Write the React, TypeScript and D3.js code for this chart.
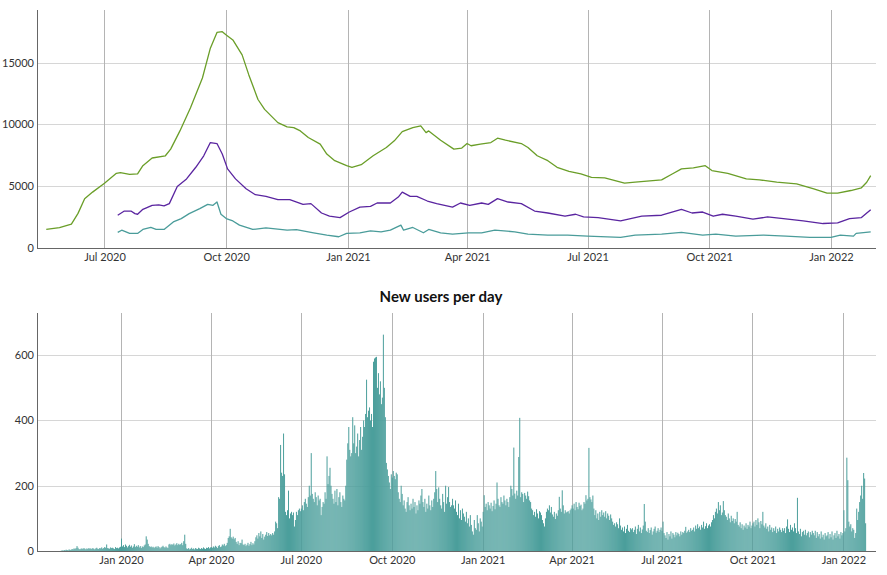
import { useEffect, useRef } from 'react';
import * as d3 from 'd3';

// rolling totals (top chart)
const totalUsers: [string, number][] = [
  ['2020-05-18', 1500], ['2020-05-28', 1650], ['2020-06-06', 1925], ['2020-06-11', 2800], ['2020-06-16', 3990],
  ['2020-06-22', 4520], ['2020-07-01', 5240], ['2020-07-10', 6040], ['2020-07-13', 6100], ['2020-07-20', 5950],
  ['2020-07-26', 5990], ['2020-07-30', 6660], ['2020-08-06', 7280], ['2020-08-16', 7460], ['2020-08-20', 8000],
  ['2020-08-27', 9470], ['2020-09-04', 11340], ['2020-09-13', 13750], ['2020-09-19', 16160], ['2020-09-24', 17440],
  ['2020-09-28', 17500], ['2020-10-01', 17230], ['2020-10-06', 16830], ['2020-10-13', 15620], ['2020-10-18', 14020],
  ['2020-10-25', 12010], ['2020-10-30', 11210], ['2020-11-09', 10140], ['2020-11-16', 9790], ['2020-11-21', 9740],
  ['2020-11-26', 9470], ['2020-12-02', 8940], ['2020-12-11', 8400], ['2020-12-16', 7600], ['2020-12-22', 7060],
  ['2020-12-31', 6660], ['2021-01-04', 6530], ['2021-01-11', 6740], ['2021-01-20', 7460], ['2021-01-30', 8130],
  ['2021-02-05', 8670], ['2021-02-11', 9410], ['2021-02-19', 9740], ['2021-02-25', 9870], ['2021-03-01', 9330],
  ['2021-03-03', 9470], ['2021-03-12', 8720], ['2021-03-22', 8000], ['2021-03-28', 8080], ['2021-04-01', 8450],
  ['2021-04-04', 8270], ['2021-04-11', 8400], ['2021-04-19', 8530], ['2021-04-24', 8880], ['2021-04-30', 8720],
  ['2021-05-12', 8450], ['2021-05-17', 8130], ['2021-05-24', 7460], ['2021-06-01', 7060], ['2021-06-08', 6530],
  ['2021-06-17', 6200], ['2021-06-26', 5990], ['2021-07-04', 5720], ['2021-07-14', 5670], ['2021-07-29', 5240],
  ['2021-08-06', 5320], ['2021-08-26', 5510], ['2021-09-03', 5990], ['2021-09-10', 6400], ['2021-09-19', 6480],
  ['2021-09-28', 6660], ['2021-10-03', 6260], ['2021-10-15', 6040], ['2021-10-29', 5590], ['2021-11-08', 5510],
  ['2021-11-21', 5320], ['2021-12-06', 5190], ['2021-12-19', 4790], ['2021-12-29', 4440], ['2022-01-06', 4440],
  ['2022-01-16', 4650], ['2022-01-24', 4870], ['2022-01-28', 5320], ['2022-01-31', 5860],
];

const activeUsers: [string, number][] = [
  ['2020-07-11', 2650], ['2020-07-16', 2990], ['2020-07-21', 2990], ['2020-07-24', 2780], ['2020-07-26', 2730],
  ['2020-07-30', 3130], ['2020-08-06', 3450], ['2020-08-11', 3480], ['2020-08-15', 3400], ['2020-08-19', 3590],
  ['2020-08-25', 4980], ['2020-09-01', 5590], ['2020-09-08', 6530], ['2020-09-14', 7460], ['2020-09-19', 8530],
  ['2020-09-24', 8450], ['2020-09-28', 7600], ['2020-10-02', 6400], ['2020-10-08', 5590], ['2020-10-16', 4790],
  ['2020-10-23', 4310], ['2020-10-31', 4170], ['2020-11-09', 3910], ['2020-11-18', 3910], ['2020-11-28', 3530],
  ['2020-12-04', 3590], ['2020-12-12', 2830], ['2020-12-18', 2570], ['2020-12-26', 2460], ['2021-01-02', 2910],
  ['2021-01-10', 3310], ['2021-01-18', 3370], ['2021-01-23', 3640], ['2021-02-02', 3640], ['2021-02-08', 4120],
  ['2021-02-11', 4520], ['2021-02-17', 4170], ['2021-02-22', 4170], ['2021-03-02', 3800], ['2021-03-09', 3590],
  ['2021-03-21', 3310], ['2021-03-27', 3640], ['2021-04-03', 3450], ['2021-04-12', 3640], ['2021-04-17', 3530],
  ['2021-04-24', 3990], ['2021-05-02', 3720], ['2021-05-12', 3590], ['2021-05-22', 2990], ['2021-06-01', 2830],
  ['2021-06-14', 2570], ['2021-06-22', 2730], ['2021-06-28', 2510], ['2021-07-09', 2460], ['2021-07-26', 2190],
  ['2021-08-11', 2570], ['2021-08-26', 2650], ['2021-09-10', 3130], ['2021-09-18', 2830], ['2021-09-26', 2910],
  ['2021-10-04', 2570], ['2021-10-11', 2730], ['2021-10-21', 2570], ['2021-11-03', 2330], ['2021-11-14', 2510],
  ['2021-11-26', 2380], ['2021-12-11', 2190], ['2021-12-26', 1980], ['2022-01-06', 2030], ['2022-01-15', 2380],
  ['2022-01-24', 2460], ['2022-01-31', 3100],
];

const returningUsers: [string, number][] = [
  ['2020-07-11', 1260], ['2020-07-14', 1440], ['2020-07-20', 1180], ['2020-07-26', 1180], ['2020-07-30', 1500],
  ['2020-08-05', 1660], ['2020-08-09', 1500], ['2020-08-15', 1500], ['2020-08-22', 2110], ['2020-08-28', 2380],
  ['2020-09-03', 2780], ['2020-09-11', 3180], ['2020-09-17', 3530], ['2020-09-21', 3450], ['2020-09-24', 3720],
  ['2020-09-27', 2730], ['2020-10-01', 2380], ['2020-10-06', 2190], ['2020-10-11', 1850], ['2020-10-21', 1500],
  ['2020-10-31', 1630], ['2020-11-16', 1440], ['2020-11-23', 1480], ['2020-12-06', 1230], ['2020-12-16', 1040],
  ['2020-12-25', 910], ['2020-12-31', 1180], ['2021-01-10', 1230], ['2021-01-18', 1390], ['2021-01-26', 1310],
  ['2021-02-02', 1440], ['2021-02-10', 1850], ['2021-02-12', 1440], ['2021-02-19', 1660], ['2021-02-27', 1230],
  ['2021-03-03', 1500], ['2021-03-12', 1230], ['2021-03-21', 1120], ['2021-04-02', 1230], ['2021-04-12', 1230],
  ['2021-04-22', 1440], ['2021-05-07', 1310], ['2021-05-17', 1120], ['2021-06-01', 1040], ['2021-06-16', 1040],
  ['2021-07-01', 960], ['2021-07-26', 860], ['2021-08-06', 1040], ['2021-08-26', 1120], ['2021-09-10', 1260],
  ['2021-09-26', 1040], ['2021-10-06', 1120], ['2021-10-21', 960], ['2021-11-11', 1040], ['2021-11-28', 960],
  ['2021-12-16', 860], ['2022-01-01', 860], ['2022-01-08', 1040], ['2022-01-18', 960], ['2022-01-20', 1180],
  ['2022-01-31', 1310],
];

// new users per day, one array per month (first value = 1st of the month)
const nov2019 = [1, 2, 1, 3, 2, 4, 3, 2, 5, 3, 4, 6, 5, 8, 6, 9, 15, 10, 6, 5, 7, 8, 6, 9, 7, 5, 8, 6, 9, 7];
const dec2019 = [8, 6, 9, 7, 5, 8, 10, 7, 6, 9, 8, 11, 7, 9, 12, 10, 20, 9, 8, 7, 11, 9, 10, 8, 6, 12, 9, 10, 8, 11, 13];
const jan2020 = [38, 14, 18, 12, 20, 16, 11, 15, 19, 13, 17, 10, 14, 21, 12, 16, 13, 18, 11, 15, 9, 14, 12, 17, 20, 45, 35, 22, 15, 12, 14];
const feb2020 = [11, 13, 9, 12, 14, 10, 15, 12, 8, 11, 13, 16, 12, 10, 14, 11, 9, 20, 22, 18, 21, 19, 23, 17, 20, 24, 18, 22, 19];
const mar2020 = [21, 25, 18, 30, 50, 22, 8, 6, 9, 5, 7, 10, 6, 8, 5, 9, 7, 6, 10, 8, 6, 9, 7, 11, 8, 6, 10, 9, 12, 8, 11];
const apr2020 = [12, 10, 14, 11, 16, 13, 9, 15, 18, 12, 14, 20, 17, 22, 15, 18, 25, 40, 45, 68, 42, 38, 44, 36, 40, 28, 22, 30, 18, 25];
const may2020 = [24, 35, 20, 18, 22, 15, 19, 25, 16, 21, 28, 18, 24, 20, 30, 42, 48, 38, 55, 45, 60, 40, 52, 35, 44, 50, 58, 46, 55, 48, 52];
const jun2020 = [48, 55, 50, 60, 90, 85, 70, 165, 160, 325, 240, 230, 360, 235, 120, 110, 125, 185, 100, 115, 120, 110, 118, 75, 95, 120, 110, 125, 130, 122];
const jul2020 = [130, 140, 125, 150, 160, 145, 135, 165, 200, 170, 300, 175, 160, 150, 180, 165, 140, 170, 155, 160, 110, 135, 150, 145, 180, 160, 290, 205, 230, 255, 200];
const aug2020 = [175, 160, 145, 185, 150, 190, 140, 165, 180, 150, 135, 170, 160, 155, 200, 280, 330, 380, 310, 290, 300, 410, 330, 385, 300, 320, 360, 290, 340, 380, 310];
const sep2020 = [350, 400, 380, 420, 525, 410, 430, 440, 400, 420, 380, 580, 590, 593, 595, 500, 545, 480, 520, 450, 470, 663, 500, 410, 270, 250, 230, 210, 190, 235];
const oct2020 = [225, 245, 230, 220, 240, 235, 180, 160, 150, 200, 175, 140, 155, 130, 120, 150, 165, 140, 125, 145, 130, 160, 135, 150, 115, 140, 125, 155, 145, 170, 190];
const nov2020 = [150, 135, 160, 120, 145, 130, 170, 140, 125, 155, 135, 160, 180, 245, 190, 150, 195, 160, 140, 130, 175, 150, 120, 200, 145, 165, 196, 150, 135, 140];
const dec2020 = [160, 140, 130, 155, 120, 110, 145, 100, 125, 95, 130, 115, 105, 90, 120, 85, 100, 75, 110, 80, 60, 50, 95, 70, 65, 110, 85, 60, 100, 90, 75];
const jan2021 = [120, 171, 135, 145, 125, 150, 140, 130, 148, 122, 138, 155, 128, 145, 210, 160, 140, 135, 165, 150, 145, 170, 155, 140, 160, 150, 135, 165, 200, 190, 170];
const feb2021 = [317, 176, 160, 185, 170, 288, 408, 165, 180, 175, 150, 178, 170, 160, 182, 168, 155, 150, 130, 125, 110, 120, 105, 128, 115, 100, 122, 118];
const mar2021 = [110, 95, 85, 75, 100, 120, 130, 125, 140, 118, 135, 112, 105, 120, 98, 115, 108, 125, 166, 130, 120, 186, 140, 115, 125, 118, 120, 122, 115, 125, 130];
const apr2021 = [140, 130, 145, 125, 150, 135, 128, 148, 138, 142, 125, 130, 150, 145, 171, 155, 160, 316, 165, 158, 150, 170, 130, 110, 125, 100, 115, 95, 120, 105];
const may2021 = [125, 110, 118, 105, 122, 100, 115, 108, 95, 112, 100, 90, 80, 85, 75, 88, 82, 70, 100, 78, 65, 72, 60, 75, 55, 68, 80, 62, 58, 70, 66];
const jun2021 = [70, 58, 65, 75, 52, 68, 80, 60, 72, 55, 66, 78, 144, 90, 62, 58, 70, 55, 64, 72, 50, 60, 68, 75, 56, 62, 70, 58, 65, 72];
const jul2021 = [62, 90, 55, 48, 40, 58, 35, 52, 45, 60, 38, 55, 50, 42, 58, 48, 56, 52, 45, 60, 50, 58, 55, 62, 74, 56, 60, 65, 58, 70, 62];
const aug2021 = [65, 72, 60, 78, 68, 82, 70, 75, 65, 80, 72, 90, 68, 76, 85, 70, 78, 82, 75, 88, 95, 110, 100, 120, 130, 115, 150, 125, 140, 110, 118];
const sep2021 = [153, 125, 110, 105, 95, 115, 100, 88, 108, 92, 100, 85, 98, 90, 120, 80, 75, 88, 70, 82, 65, 78, 72, 85, 68, 80, 75, 90, 70, 78];
const oct2021 = [85, 90, 75, 95, 80, 100, 88, 70, 92, 82, 120, 78, 72, 85, 68, 75, 60, 80, 65, 72, 58, 70, 62, 75, 55, 68, 60, 72, 65, 58, 70];
const nov2021 = [62, 70, 55, 75, 97, 68, 58, 80, 65, 72, 60, 85, 70, 55, 163, 60, 52, 68, 45, 58, 62, 50, 65, 48, 55, 60, 42, 58, 50, 62];
const dec2021 = [55, 48, 62, 40, 58, 45, 52, 38, 60, 42, 50, 35, 55, 45, 48, 58, 38, 52, 42, 60, 35, 48, 55, 40, 62, 45, 52, 38, 58, 48, 55];
const jan2022 = [125, 60, 70, 286, 217, 90, 75, 82, 60, 70, 65, 40, 55, 130, 95, 120, 150, 170, 200, 160, 239, 222, 85];

const newUsersByMonth: [string, number[]][] = [
  ['2019-11', nov2019], ['2019-12', dec2019], ['2020-01', jan2020], ['2020-02', feb2020], ['2020-03', mar2020],
  ['2020-04', apr2020], ['2020-05', may2020], ['2020-06', jun2020], ['2020-07', jul2020], ['2020-08', aug2020],
  ['2020-09', sep2020], ['2020-10', oct2020], ['2020-11', nov2020], ['2020-12', dec2020], ['2021-01', jan2021],
  ['2021-02', feb2021], ['2021-03', mar2021], ['2021-04', apr2021], ['2021-05', may2021], ['2021-06', jun2021],
  ['2021-07', jul2021], ['2021-08', aug2021], ['2021-09', sep2021], ['2021-10', oct2021], ['2021-11', nov2021],
  ['2021-12', dec2021], ['2022-01', jan2022],
];

const lineSeries = [
  { name: 'total', color: '#6a9e28', data: totalUsers },
  { name: 'active', color: '#5a25a0', data: activeUsers },
  { name: 'returning', color: '#4a9c9a', data: returningUsers },
];

const topDomain = ['2020-05-11', '2022-02-04'];
const bottomDomain = ['2019-10-08', '2022-02-03'];
const chartTitle = 'New users per day';

const FONT = 'Lato, "Open Sans", sans-serif';

export default function App() {
  const svgRef = useRef<SVGSVGElement>(null);

  useEffect(() => {
    if (!svgRef.current) return;
    const svg = d3.select(svgRef.current);
    svg.selectAll('*').remove();

    const parse = d3.timeParse('%Y-%m-%d');
    const left = 37;
    const right = 876;

    const drawFrame = (
      g: d3.Selection<SVGGElement, unknown, null, undefined>,
      x: d3.ScaleTime<number, number>,
      y: d3.ScaleLinear<number, number>,
      top: number,
      bottom: number
    ) => {
      // horizontal grid
      g.selectAll('.hgrid')
        .data(y.ticks(4).filter(d => d > 0))
        .enter()
        .append('line')
        .attr('x1', left)
        .attr('x2', right)
        .attr('y1', d => Math.round(y(d)) + 0.5)
        .attr('y2', d => Math.round(y(d)) + 0.5)
        .attr('stroke', '#d6d6d6')
        .attr('stroke-width', 1);

      const monthTicks = x.ticks(d3.timeMonth.every(3)!);
      g.selectAll('.vgrid')
        .data(monthTicks)
        .enter()
        .append('line')
        .attr('x1', d => Math.round(x(d)) + 0.5)
        .attr('x2', d => Math.round(x(d)) + 0.5)
        .attr('y1', top)
        .attr('y2', bottom)
        .attr('stroke', '#b4b4b4')
        .attr('stroke-width', 1);

      const xAxis = d3.axisBottom(x)
        .tickValues(monthTicks)
        .tickSize(0)
        .tickPadding(5)
        .tickFormat(d => d3.timeFormat('%b %Y')(d as Date));

      g.append('g')
        .attr('transform', `translate(0,${bottom})`)
        .call(xAxis)
        .call(a => a.select('.domain').remove())
        .selectAll('text')
        .attr('fill', '#333')
        .attr('font-family', FONT)
        .attr('font-size', '11px');

      const yAxis = d3.axisLeft(y)
        .ticks(4)
        .tickSize(0)
        .tickPadding(3)
        .tickFormat(d => d3.format('d')(d as number));

      g.append('g')
        .attr('transform', `translate(${left},0)`)
        .call(yAxis)
        .call(a => a.select('.domain').remove())
        .selectAll('text')
        .attr('fill', '#333')
        .attr('font-family', FONT)
        .attr('font-size', '11px');

      return monthTicks;
    };

    const drawAxisLines = (g: d3.Selection<SVGGElement, unknown, null, undefined>, top: number, bottom: number) => {
      g.append('line')
        .attr('x1', left + 0.5).attr('x2', left + 0.5)
        .attr('y1', top).attr('y2', bottom)
        .attr('stroke', '#666');
      g.append('line')
        .attr('x1', left).attr('x2', right)
        .attr('y1', bottom + 0.5).attr('y2', bottom + 0.5)
        .attr('stroke', '#666');
    };

    // ---- top chart ----
    const topTop = 10;
    const topBottom = 248;
    const xTop = d3.scaleTime()
      .domain(topDomain.map(d => parse(d)!) as [Date, Date])
      .range([left, right]);
    const maxTop = d3.max(lineSeries.flatMap(s => s.data.map(d => d[1]))) || 1;
    const yTop = d3.scaleLinear()
      .domain([0, maxTop * 1.1])
      .range([topBottom, topTop]);

    const gTop = svg.append('g');
    drawFrame(gTop, xTop, yTop, topTop, topBottom);

    const line = d3.line<[string, number]>()
      .x(d => xTop(parse(d[0])!))
      .y(d => yTop(d[1]));

    lineSeries.forEach(s => {
      gTop.append('path')
        .datum(s.data)
        .attr('d', line)
        .attr('fill', 'none')
        .attr('stroke', s.color)
        .attr('stroke-width', 1.3)
        .attr('stroke-linejoin', 'round');
    });
    drawAxisLines(gTop, topTop, topBottom);

    // ---- bottom chart ----
    const botTop = 313;
    const botBottom = 551;
    const daily = newUsersByMonth.flatMap(([m, vals]) => {
      const start = parse(m + '-01')!;
      return vals.map((v, i) => ({ date: d3.timeDay.offset(start, i), value: v }));
    });

    const xBot = d3.scaleTime()
      .domain(bottomDomain.map(d => parse(d)!) as [Date, Date])
      .range([left, right]);
    const yBot = d3.scaleLinear()
      .domain([0, (d3.max(daily, d => d.value) || 1) * 1.1])
      .range([botBottom, botTop]);

    svg.append('text')
      .attr('x', 441)
      .attr('y', 302)
      .attr('text-anchor', 'middle')
      .attr('font-family', FONT)
      .attr('font-weight', 'bold')
      .attr('font-size', '15px')
      .attr('fill', '#111')
      .text(chartTitle);

    const gBot = svg.append('g');
    drawFrame(gBot, xBot, yBot, botTop, botBottom);

    gBot.selectAll('.bar')
      .data(daily)
      .enter()
      .append('rect')
      .attr('class', 'bar')
      .attr('x', d => xBot(d.date))
      .attr('width', d => xBot(d3.timeDay.offset(d.date, 1)) - xBot(d.date))
      .attr('y', d => yBot(d.value))
      .attr('height', d => botBottom - yBot(d.value))
      .attr('fill', '#4a9e9b');

    drawAxisLines(gBot, botTop, botBottom);
  }, []);

  return (
    <svg
      ref={svgRef}
      width={887}
      height={575}
      style={{ position: 'absolute', left: 0, top: 0, background: '#fff' }}
    />
  );
}
